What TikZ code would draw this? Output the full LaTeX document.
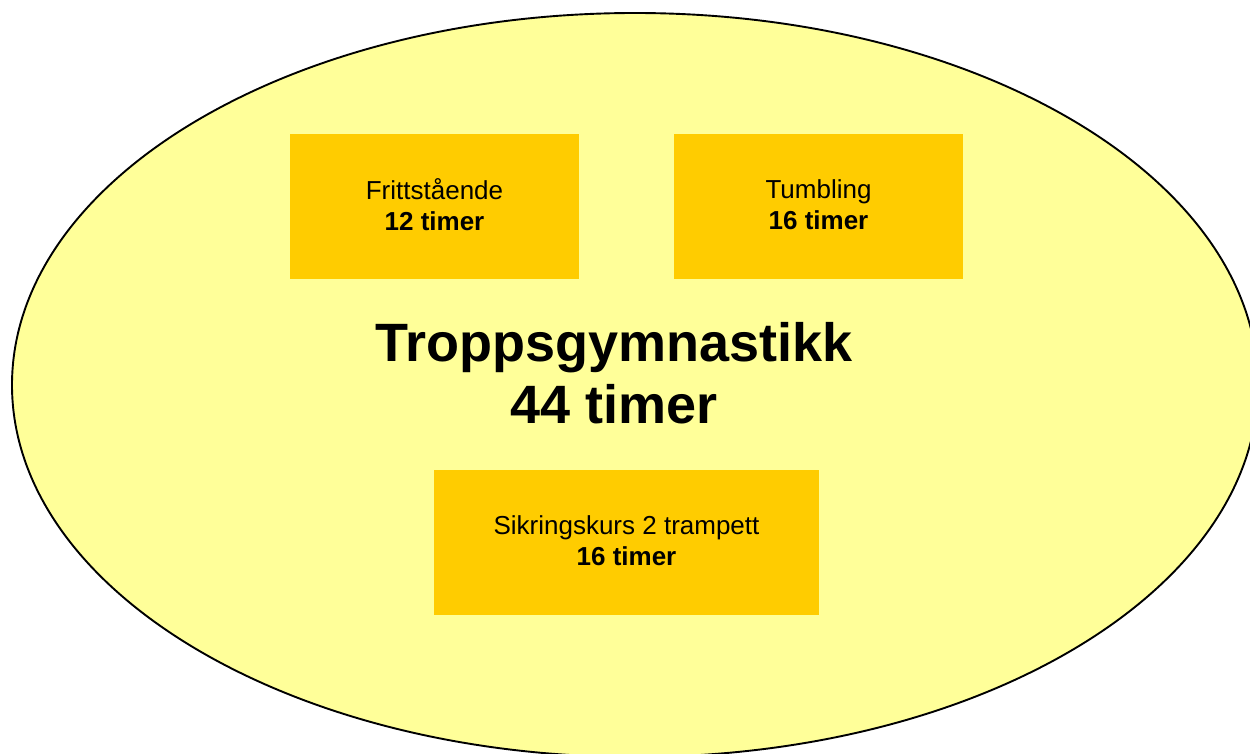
\documentclass[tikz,border=0pt]{standalone}
\usepackage{fontspec}
\setmainfont{Liberation Sans}
\usetikzlibrary{shapes.geometric}
\definecolor{paleyellow}{HTML}{FFFF99}
\definecolor{gold}{HTML}{FFCC00}
% small depth strut that lifts a two-line label slightly within its box
\newcommand{\lowstrut}{\rule[-3.5pt]{0pt}{3.5pt}}
\tikzset{
  course/.style={rectangle, fill=gold, draw=none, inner sep=0pt,
    minimum height=145pt, align=center,
    font=\fontsize{26}{31.3}\selectfont},
  title/.style={align=center, inner sep=0pt,
    font=\fontsize{54}{62}\selectfont\bfseries},
  outer/.style={ellipse, draw=black, line width=1.9pt, fill=paleyellow,
    inner sep=0pt, minimum width=1246pt, minimum height=744pt}
}
\begin{document}
\begin{tikzpicture}[x=1pt, y=-1pt]
  \useasboundingbox (0,0) rectangle (1250,754);
  \clip (0,0) rectangle (1250,754);
  \fill[white] (0,0) rectangle (1250,754);
  % enclosing programme
  \node[outer] (prog) at (635,385) {};
  % modules
  \node[course, minimum width=289pt] (fritt) at (434.5,206.5)
    {Frittstående\\\textbf{12 timer}\lowstrut};
  \node[course, minimum width=289pt] (tumb) at (818.5,206.5)
    {Tumbling\\\textbf{16 timer}\lowstrut};
  \node[course, minimum width=385pt] (sikr) at (626.5,542.5)
    {Sikringskurs 2 trampett\\\textbf{16 timer}\lowstrut};
  % total
  \node[title] (total) at (614,373.5) {Troppsgymnastikk\\44 timer};
\end{tikzpicture}
\end{document}
